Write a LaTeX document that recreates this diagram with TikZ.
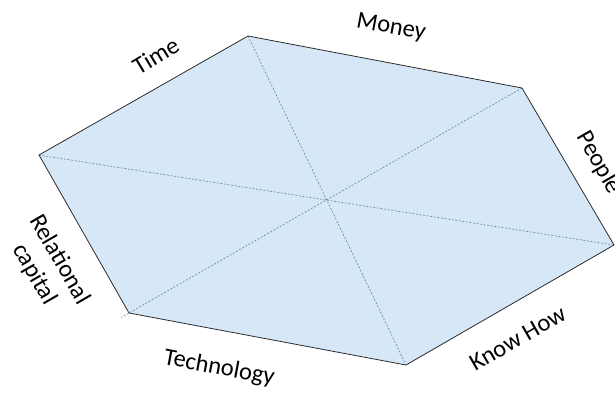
\documentclass[tikz,border=0pt]{standalone}
\usepackage{fontspec}
\setmainfont{Carlito}
\usetikzlibrary{calc}
\definecolor{hexfill}{RGB}{214,231,247}
\definecolor{hexedge}{RGB}{45,45,45}
\definecolor{axisdash}{RGB}{105,128,165}
\tikzset{
  hexside/.style={draw=hexedge, line width=0.8pt, line join=miter},
  axisline/.style={draw=axisdash, line width=0.6pt, dash pattern=on 2pt off 1.6pt},
  sidelabel/.style={font=\fontsize{24.5}{29}\selectfont, inner sep=0pt, text=black},
}
\begin{document}
\begin{tikzpicture}[x=1pt, y=1pt]
  \useasboundingbox (0,0) rectangle (615,392);
  % corners of the hexagon
  \coordinate (T)  at (248,356);
  \coordinate (UR) at (522,304);
  \coordinate (R)  at (614,147);
  \coordinate (BR) at (406,27);
  \coordinate (BL) at (129,79);
  \coordinate (L)  at (39,237);
  % body
  \fill[hexfill] (T) -- (UR) -- (R) -- (BR) -- (BL) -- (L) -- cycle;
  % dashed axes through the centre
  \draw[axisline] (T) -- (BR);
  \draw[axisline] (UR) -- ($(BL)!-9pt!(UR)$);
  \draw[axisline] (L) -- (R);
  % outline
  \draw[hexside] (T) -- (UR) -- (R) -- (BR) -- (BL) -- (L) -- cycle;
  % side labels
  \node[sidelabel, anchor=base, rotate=-10.7] (money) at (390,358.5) {Money};
  \node[sidelabel, anchor=base, rotate=31] (time) at (160,329) {Time};
  \node[sidelabel, anchor=base, rotate=-60] (people) at (593,226) {People};
  \node[sidelabel, anchor=base, rotate=30] (knowhow) at (521.5,46.7) {Know How};
  \node[sidelabel, anchor=base, rotate=-10.6] (technology) at (218,17.5) {Technology};
  \node[sidelabel, align=center, rotate=-60] (relational) at (47,125) {Relational\\capital};
\end{tikzpicture}
\end{document}
